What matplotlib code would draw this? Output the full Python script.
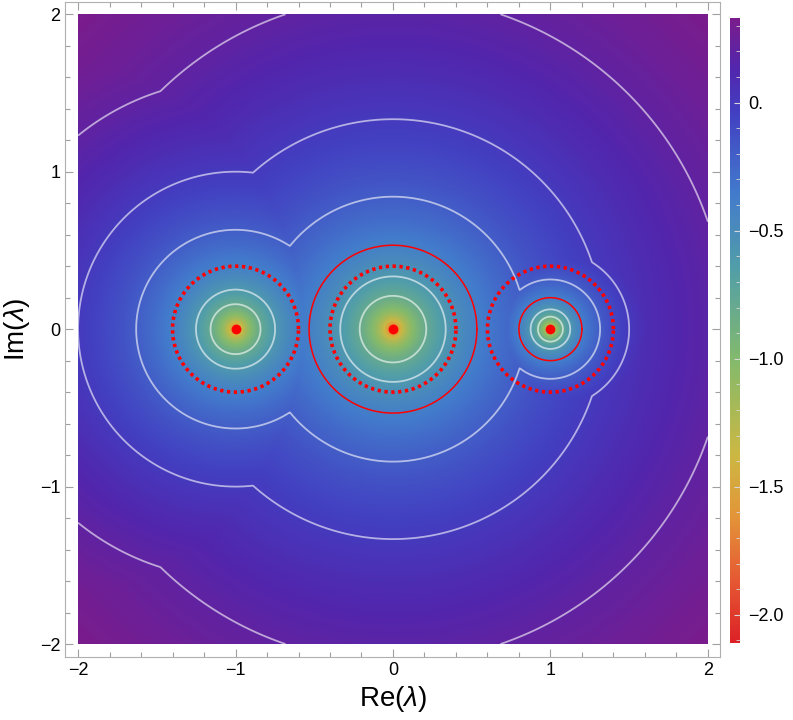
import numpy as np
import matplotlib
matplotlib.use("Agg")
import matplotlib.pyplot as plt
from matplotlib.colors import LinearSegmentedColormap
from matplotlib.ticker import MultipleLocator

# eigenvalues and their weights (ratio of contour radii)
eigs = [-1.0, 0.0, 1.0]
weights = [1.0, 0.75, 2.0]
contour_levels = [-0.8, -0.6, -0.2, 0.0, 0.2]
dotted_radius = 0.4
solid_centers = [0.0, 1.0]
solid_radii = [0.533, 0.2]
vmin, vmax = -2.11, 0.33
cbar_ticks = [0.0, -0.5, -1.0, -1.5, -2.0]
cbar_labels = ["0.", "\u22120.5", "\u22121.0", "\u22121.5", "\u22122.0"]
axis_ticks = [-2, -1, 0, 1, 2]

plt.rcParams["font.family"] = ["Liberation Sans", "DejaVu Sans"]
plt.rcParams["mathtext.fontset"] = "custom"
plt.rcParams["mathtext.it"] = "Liberation Sans:italic"
plt.rcParams["mathtext.rm"] = "Liberation Sans"

# Mathematica-like "Rainbow" scheme, low value = red, high value = purple
cmap = LinearSegmentedColormap.from_list("rainbow_m", [
    (0.00, (0.86, 0.13, 0.15)),
    (0.10, (0.90, 0.35, 0.20)),
    (0.20, (0.89, 0.58, 0.22)),
    (0.30, (0.80, 0.72, 0.26)),
    (0.45, (0.52, 0.73, 0.42)),
    (0.60, (0.32, 0.62, 0.66)),
    (0.72, (0.26, 0.48, 0.80)),
    (0.85, (0.26, 0.25, 0.76)),
    (0.92, (0.32, 0.15, 0.68)),
    (1.00, (0.48, 0.11, 0.55)),
])

n = 801
xs = np.linspace(-2, 2, n)
X, Y = np.meshgrid(xs, xs)
Z = X + 1j * Y
D = np.min([w * np.abs(Z - e) for e, w in zip(eigs, weights)], axis=0)
F = np.log10(np.maximum(D, 1e-12))

fig = plt.figure(figsize=(7.93, 7.2), dpi=100)
ax = fig.add_axes([0.0794, 0.088, 0.8323, 0.9097])

im = ax.imshow(F, extent=(-2, 2, -2, 2), origin="lower", cmap=cmap,
               vmin=vmin, vmax=vmax, interpolation="bilinear")
ax.contour(X, Y, F, levels=contour_levels, colors="white", linewidths=1.3,
           alpha=0.6, linestyles="solid")

t = np.linspace(0, 2 * np.pi, 400)
for c, r in zip(solid_centers, solid_radii):
    ax.plot(c + r * np.cos(t), r * np.sin(t), color="red", lw=1.1)
for e in eigs:
    ax.plot(e + dotted_radius * np.cos(t), dotted_radius * np.sin(t), color="red",
            lw=2.6, linestyle=(0, (0.9, 1.0)))
ax.plot(eigs, [0] * len(eigs), "o", color="red", ms=7, mec="none")

ax.set_xlim(-2.08, 2.08)
ax.set_ylim(-2.08, 2.08)
ax.set_xticks(axis_ticks)
ax.set_yticks(axis_ticks)
ax.set_xticklabels([str(v).replace("-", "\u2212") for v in axis_ticks])
ax.set_yticklabels([str(v).replace("-", "\u2212") for v in axis_ticks])
ax.xaxis.set_minor_locator(MultipleLocator(0.2))
ax.yaxis.set_minor_locator(MultipleLocator(0.2))
ax.tick_params(which="both", direction="in", top=True, right=True, color="#a0a0a0",
               labelsize=13, width=0.8)
ax.tick_params(which="major", length=6)
ax.tick_params(which="minor", length=3.5)
for s in ax.spines.values():
    s.set_color("#b0b0b0")
    s.set_linewidth(0.8)

ax.set_xlabel(r"Re($\lambda$)", fontsize=20, labelpad=4)
ax.set_ylabel(r"Im($\lambda$)", fontsize=20, labelpad=6)

cax = fig.add_axes([0.9206, 0.1069, 0.0126, 0.868])
cb = fig.colorbar(im, cax=cax, ticks=cbar_ticks)
cb.set_ticklabels(cbar_labels)
cb.outline.set_visible(False)
cb.ax.yaxis.set_minor_locator(MultipleLocator(0.1))
cb.ax.tick_params(which="both", direction="in", color="#d8d8d8", labelsize=13, pad=6)
cb.ax.tick_params(which="major", length=4)
cb.ax.tick_params(which="minor", length=3)

fig.savefig("out.png", dpi=100)
